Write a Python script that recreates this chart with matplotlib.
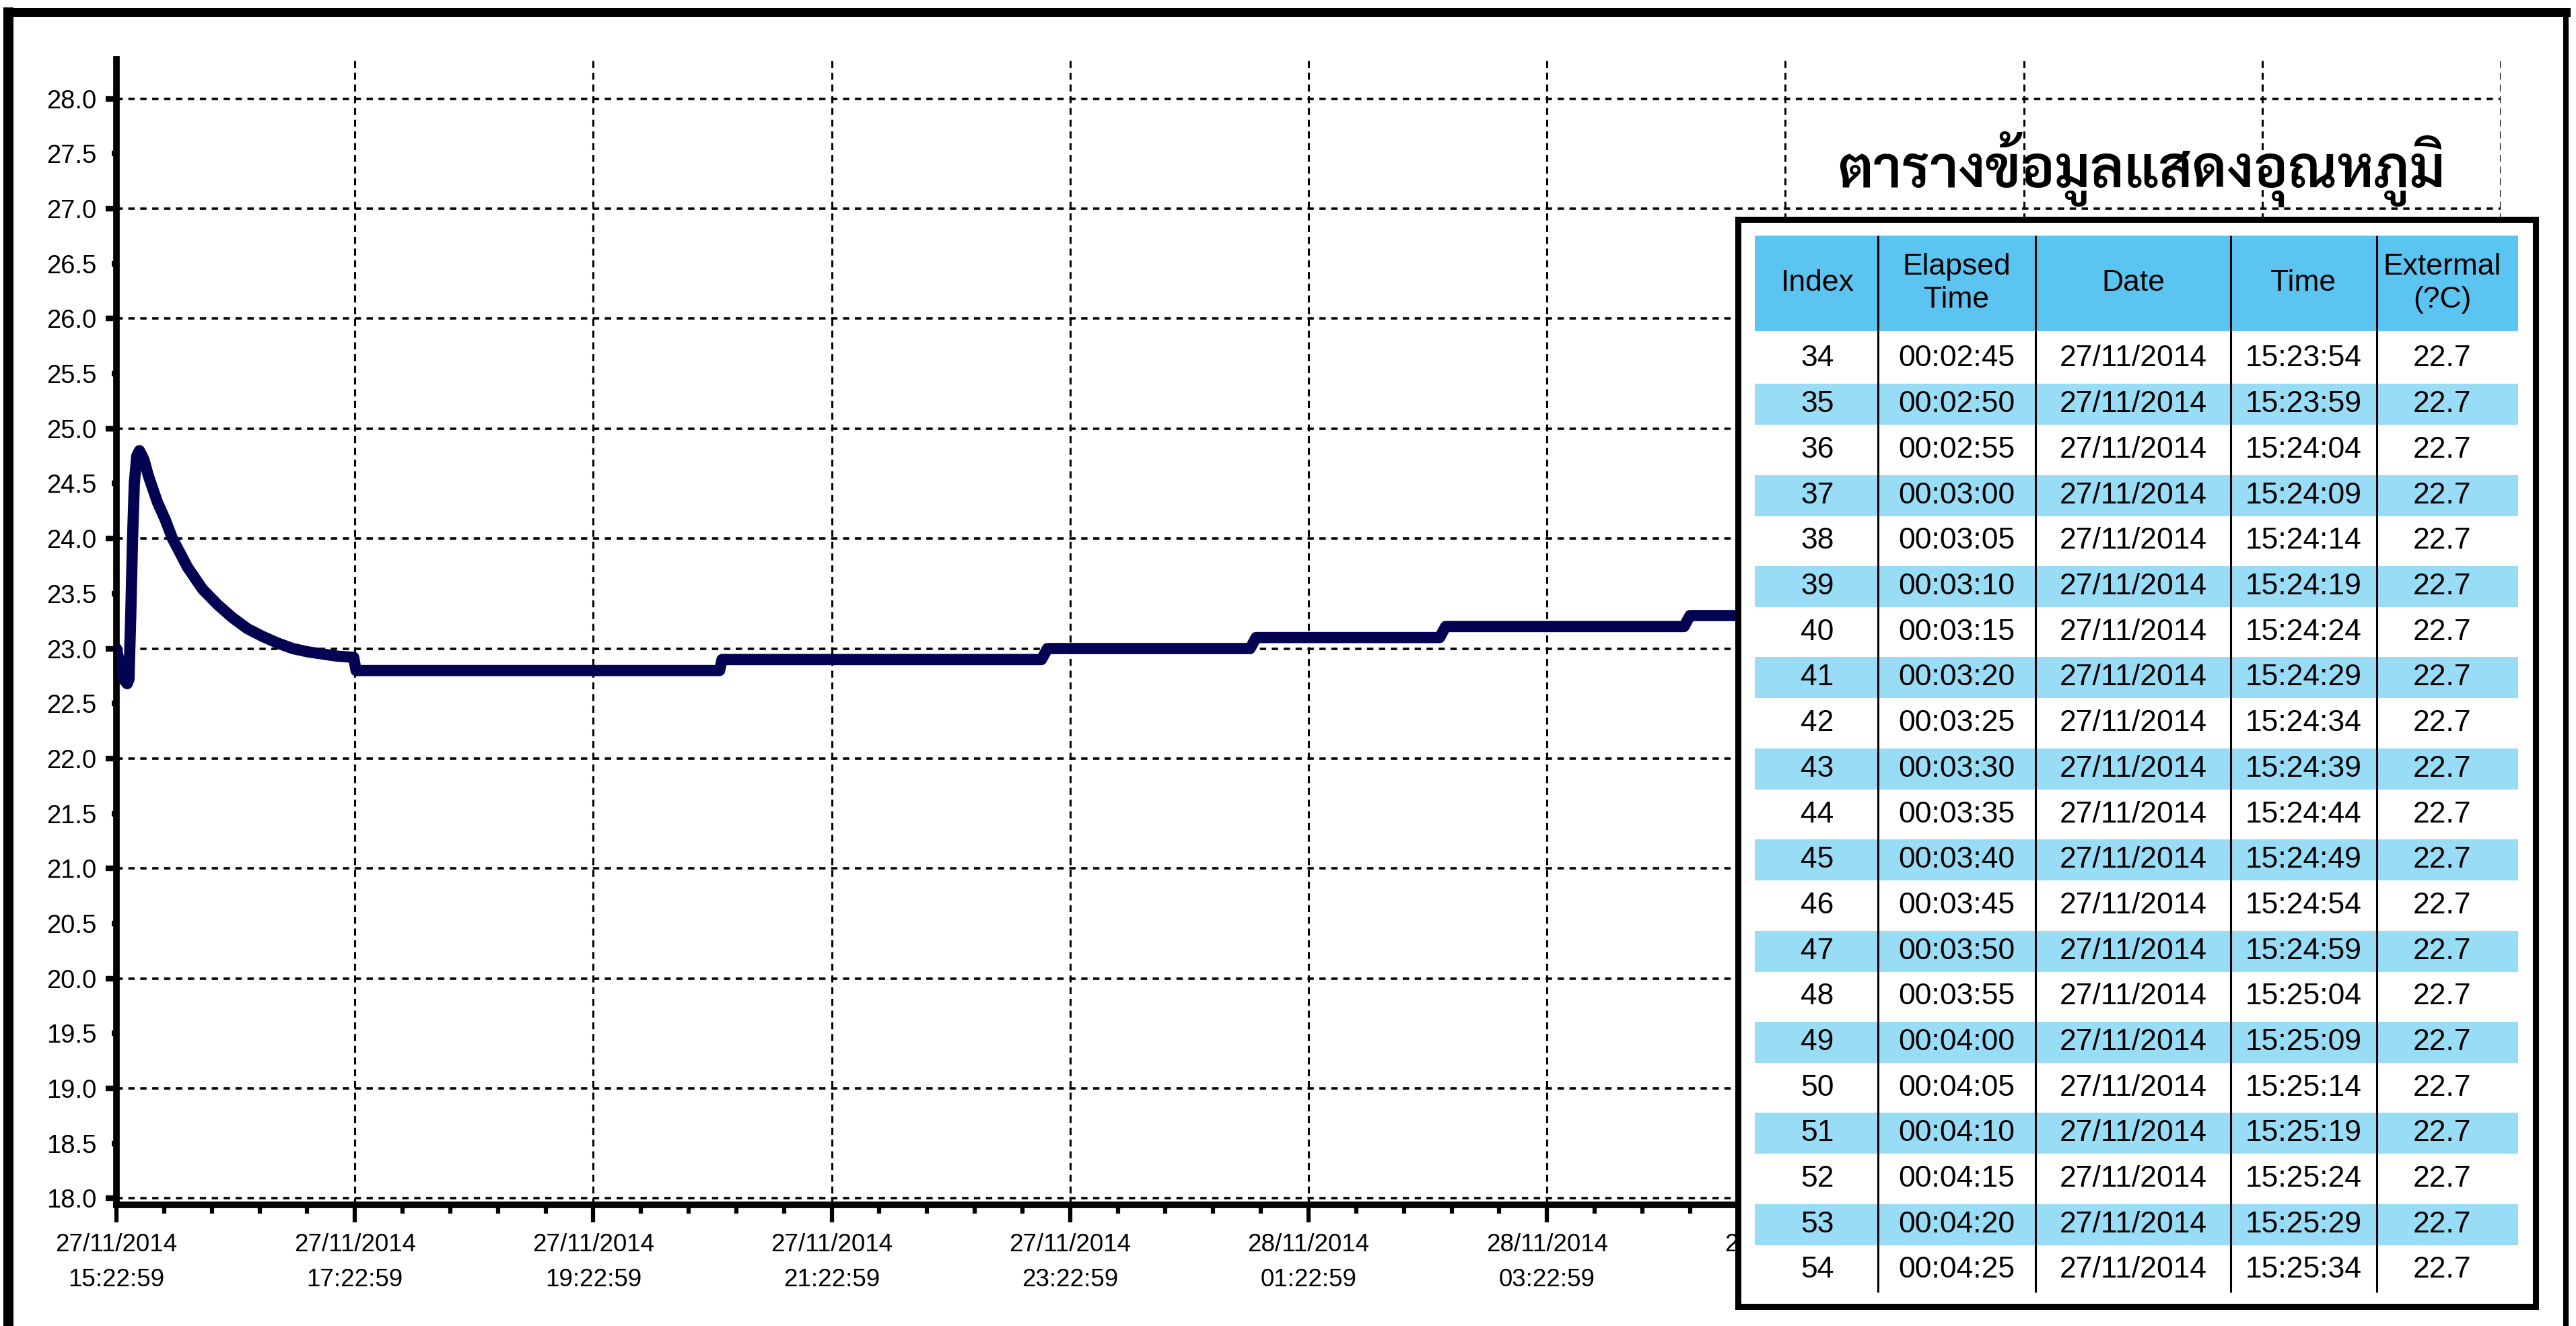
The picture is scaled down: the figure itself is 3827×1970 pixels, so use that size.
import matplotlib
matplotlib.use("Agg")
import matplotlib.pyplot as plt
from matplotlib.patches import Rectangle
from matplotlib.lines import Line2D
from matplotlib.transforms import Bbox
from matplotlib.ticker import MultipleLocator, FormatStrFormatter

plt.rcParams['font.family'] = ['Liberation Sans', 'DejaVu Sans']

# Temperature log (hours after 27/11/2014 15:22:59)
hours = [0.0, 0.03, 0.06, 0.09, 0.105, 0.12, 0.135, 0.15, 0.17, 0.193,
         0.23, 0.268, 0.344, 0.41, 0.47, 0.533, 0.596, 0.722, 0.848, 0.974,
         1.10, 1.226, 1.352, 1.478, 1.604, 1.73, 1.857, 1.99,
         2.01, 5.06, 5.08, 7.76, 7.81, 9.51, 9.56, 11.10, 11.15, 13.15, 13.20, 20.0]
temps = [23.0, 22.85, 22.72, 22.68, 22.72, 23.3, 24.0, 24.5, 24.75, 24.8,
         24.72, 24.57, 24.33, 24.17, 24.0, 23.87, 23.74, 23.54, 23.40, 23.28,
         23.18, 23.11, 23.05, 23.0, 22.97, 22.95, 22.93, 22.92,
         22.8, 22.8, 22.9, 22.9, 23.0, 23.0, 23.1, 23.1, 23.2, 23.2, 23.3, 23.3]

x_tick_hours = [0, 2, 4, 6, 8, 10, 12, 14, 16, 18, 20]
x_tick_labels = ["27/11/2014\n15:22:59", "27/11/2014\n17:22:59", "27/11/2014\n19:22:59",
                 "27/11/2014\n21:22:59", "27/11/2014\n23:22:59", "28/11/2014\n01:22:59",
                 "28/11/2014\n03:22:59", "28/11/2014\n05:22:59", "28/11/2014\n07:22:59",
                 "28/11/2014\n09:22:59", "28/11/2014\n11:22:59"]

# Table data
table_title = "ตารางข้อมูลแสดงอุณหภูมิ"
col_headers = ["Index", "Elapsed\nTime", "Date", "Time", "Extermal\n(?C)"]
idx = ["34", "35", "36", "37", "38", "39", "40", "41", "42", "43", "44",
       "45", "46", "47", "48", "49", "50", "51", "52", "53", "54"]
elapsed = ["00:02:45", "00:02:50", "00:02:55", "00:03:00", "00:03:05", "00:03:10",
           "00:03:15", "00:03:20", "00:03:25", "00:03:30", "00:03:35", "00:03:40",
           "00:03:45", "00:03:50", "00:03:55", "00:04:00", "00:04:05", "00:04:10",
           "00:04:15", "00:04:20", "00:04:25"]
dates = ["27/11/2014"] * 21
times = ["15:23:54", "15:23:59", "15:24:04", "15:24:09", "15:24:14", "15:24:19",
         "15:24:24", "15:24:29", "15:24:34", "15:24:39", "15:24:44", "15:24:49",
         "15:24:54", "15:24:59", "15:25:04", "15:25:09", "15:25:14", "15:25:19",
         "15:25:24", "15:25:29", "15:25:34"]
ext = ["22.7"] * 21

W, H = 3827, 1970
fig = plt.figure(figsize=(W / 100, H / 100), dpi=100)

# Chart
ax = fig.add_axes([173 / W, 1 - 1790 / H, (3715 - 173) / W, (1790 - 88) / H])
ax.plot(hours, temps, color='#030352', lw=12, solid_joinstyle='round',
        solid_capstyle='round', zorder=3)
ax.set_xlim(0, 20)
ax.set_ylim(17.94, 28.36)

for s in ['top', 'right']:
    ax.spines[s].set_visible(False)
ax.spines['left'].set_linewidth(7)
ax.spines['bottom'].set_linewidth(7)

ax.set_xticks(x_tick_hours)
ax.set_xticklabels(x_tick_labels)
ax.xaxis.set_minor_locator(MultipleLocator(0.4))
ax.tick_params(axis='x', which='major', length=19, width=4.5, pad=11, labelsize=26.5)
ax.tick_params(axis='x', which='minor', length=9, width=4.5)
# labels stop at the right edge of the table box
clip = Bbox.from_extents(0, 0, 3767, H)
for lbl in ax.get_xticklabels():
    lbl.set_linespacing(1.65)
    lbl.set_clip_on(True)
    lbl.set_clip_box(clip)

ax.yaxis.set_major_locator(MultipleLocator(1))
ax.yaxis.set_minor_locator(MultipleLocator(0.5))
ax.yaxis.set_major_formatter(FormatStrFormatter('%.1f'))
ax.yaxis.set_minor_formatter(FormatStrFormatter('%.1f'))
ax.tick_params(axis='y', which='major', length=11.5, width=6, pad=10, labelsize=27.5)
ax.tick_params(axis='y', which='minor', length=5, width=6, pad=16.5, labelsize=27.5)

ax.grid(axis='y', which='major', ls=(0, (2.6, 2.3)), lw=2.6, color='black')
ax.grid(axis='x', which='major', ls=(0, (3.4, 2.3)), lw=2.2, color='black')

# Outer frame
fig.add_artist(Line2D([12 / W, 12 / W], [0, 1 - 18 / H], lw=10.8, color='black'))
fig.add_artist(Line2D([12 / W, 3812 / W], [1 - 18 / H, 1 - 18 / H], lw=9.4, color='black'))
fig.add_artist(Line2D([3812 / W, 3812 / W], [1 - 18 / H, 0], lw=5.8, color='black'))

# Table title
fig.text(3181 / W, 1 - 278 / H, table_title, ha='center', va='baseline',
         fontsize=61, fontweight='semibold',
         family=['Sarabun', 'IBM Plex Sans Thai Looped', 'DejaVu Sans'])

# Table (pixel coordinates inside its own axes)
tx0, tx1, ty0, ty1 = 2582, 3767, 326, 1941
tax = fig.add_axes([tx0 / W, 1 - ty1 / H, (tx1 - tx0) / W, (ty1 - ty0) / H])
tax.set_xlim(tx0, tx1)
tax.set_ylim(ty1, ty0)
tax.set_xticks([])
tax.set_yticks([])
for s in tax.spines.values():
    s.set_linewidth(6.5)
tax.set_facecolor('white')

fill_x0, fill_x1 = 2607, 3741
head_top, head_bot = 350, 492
row0, pitch, band_h = 533, 67.7, 61
dividers = [2790, 3024, 3314, 3531]
col_x = [2700, 2907, 3169, 3422, 3628]

tax.add_patch(Rectangle((fill_x0, head_top), fill_x1 - fill_x0, head_bot - head_top,
                        facecolor='#5bc4f1', edgecolor='none'))
for j, h in enumerate(col_headers):
    tax.text(col_x[j], (head_top + head_bot) / 2, h, ha='center', va='center',
             fontsize=32, linespacing=1.25)

columns = [idx, elapsed, dates, times, ext]
for i in range(len(idx)):
    yc = row0 + i * pitch
    if i % 2 == 1:
        tax.add_patch(Rectangle((fill_x0, yc - band_h / 2), fill_x1 - fill_x0, band_h,
                                facecolor='#99dcf6', edgecolor='none'))
    for j, col in enumerate(columns):
        tax.text(col_x[j], yc, col[i], ha='center', va='center', fontsize=32)

tax.vlines(dividers, head_top, 1920, colors='black', lw=2.2)

fig.savefig("out.png", dpi=100)
